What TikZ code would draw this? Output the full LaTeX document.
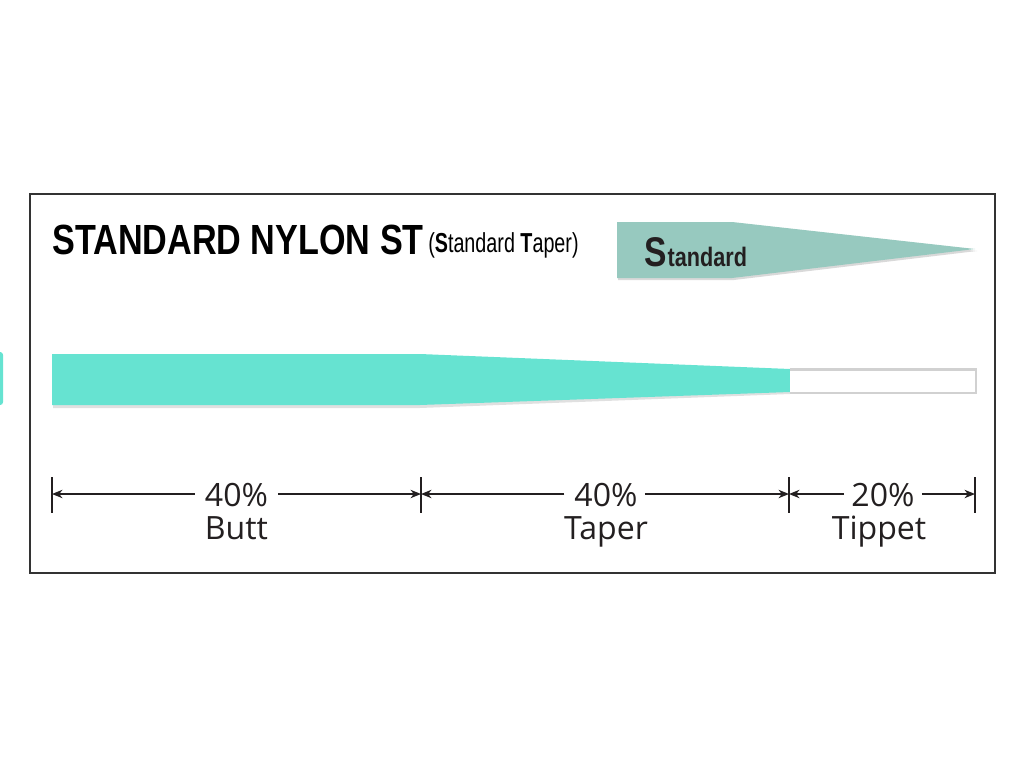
\documentclass[tikz,border=0pt]{standalone}
\usepackage{fontspec}
\usetikzlibrary{arrows.meta,positioning}
\setmainfont{Open Sans}
\newfontfamily\condfont[FakeStretch=0.81]{Liberation Sans}
\newfontfamily\subfont[FakeStretch=0.72]{Liberation Sans}
\definecolor{barteal}{HTML}{66E3D1}
\definecolor{flagteal}{HTML}{97C9BF}
\definecolor{inkgray}{HTML}{231F20}

\begin{document}
\begin{tikzpicture}[x=0.025cm,y=-0.025cm,>={Stealth[length=7.5pt,width=6pt]},
  dimline/.style={inkgray,line width=1pt},
  dimlabel/.style={text=inkgray,inner sep=0pt,anchor=base,font=\fontsize{22.8pt}{24pt}\selectfont}]

\useasboundingbox (0,0) rectangle (1024,768);

% frame
\draw[line width=1.1pt,black!80] (30,194) rectangle (995,573);

% title
\node(title) at (52,254)[anchor=base west,inner sep=0pt,font=\condfont\bfseries\fontsize{30pt}{32pt}\selectfont] {STANDARD NYLON ST};
\node(subtitle) at (428,252)[anchor=base west,inner sep=0pt,font=\subfont\fontsize{19.5pt}{21pt}\selectfont] {(\textbf{S}tandard \textbf{T}aper)};

% flag
\fill[black!15] (618,224) -- (734,224) -- (977,251) -- (734,280) -- (618,280) -- cycle;
\fill[flagteal] (617,222) -- (732,222) -- (975,249) -- (732,278) -- (617,278) -- cycle;
\node(flagS) at (644,266)[anchor=base west,inner sep=0pt,text=inkgray,font=\condfont\bfseries\fontsize{29.5pt}{30pt}\selectfont] {S};
\node(flagtxt) at (flagS.base east)[anchor=base west,inner sep=0pt,xshift=0.3pt,text=inkgray,font=\condfont\bfseries\fontsize{19pt}{20pt}\selectfont] {tandard};

% sliver at the left edge
\fill[barteal,rounded corners=2pt] (-6,352) rectangle (3,405);

% line
\fill[black!12] (53,356) -- (420,356) -- (790,371) -- (790,394) -- (420,408) -- (53,408) -- cycle;
\fill[barteal] (52,354) -- (420,354) -- (790,369) -- (790,392) -- (420,405) -- (52,405) -- cycle;
\fill[black!18] (790,368) rectangle (977,394);
\fill[white] (790,370.5) rectangle (975,391.5);

% dimension ticks
\foreach \n/\x in {t1/52,t2/421,t3/789,t4/975}{
  \coordinate(\n) at (\x,494);
  \draw[dimline] (\x,477) -- (\x,513);
}

% dimension labels
\node(p1) at (236.5,506)[dimlabel] {40\%};
\node(n1) at (236.5,539)[dimlabel] {Butt};
\node(p2) at (606,506)[dimlabel] {40\%};
\node(n2) at (606,539)[dimlabel] {Taper};
\node(p3) at (883,506)[dimlabel] {20\%};
\node(n3) at (879,539)[dimlabel] {Tippet};

\draw[dimline,->] ([xshift=-7pt]p1.west |- t1) -- (t1);
\draw[dimline,->] ([xshift=7pt]p1.east |- t2) -- (t2);
\draw[dimline,->] ([xshift=-7pt]p2.west |- t2) -- (t2);
\draw[dimline,->] ([xshift=5pt]p2.east |- t3) -- (t3);
\draw[dimline,->] ([xshift=-5pt]p3.west |- t3) -- (t3);
\draw[dimline,->] ([xshift=5pt]p3.east |- t4) -- (t4);

\end{tikzpicture}
\end{document}
